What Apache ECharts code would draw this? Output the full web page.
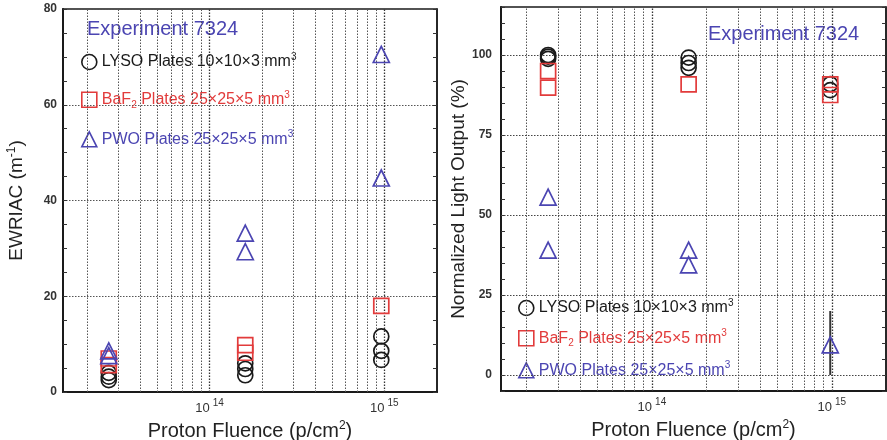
<!DOCTYPE html>
<html><head><meta charset="utf-8">
<script src="https://cdn.jsdelivr.net/npm/echarts@6/dist/echarts.min.js"></script>
<style>html,body{margin:0;padding:0;background:#fff}#c{width:887px;height:440px}</style>
</head><body><div id="c"></div>
<script>
// ---------- data ----------
const seriesNames = ['LYSO', 'BaF2', 'PWO'];
// Left panel: EWRIAC (m^-1) vs proton fluence
const lysoEwriacX = [2.65e13, 2.65e13, 2.65e13, 1.6e14, 1.6e14, 1.6e14, 9.6e14, 9.6e14, 9.6e14];
const lysoEwriacY = [4.0, 3.2, 2.5, 6.0, 4.8, 3.5, 11.6, 8.6, 6.7];
const bafEwriacX = [2.65e13, 2.65e13, 1.6e14, 1.6e14, 9.6e14];
const bafEwriacY = [7.0, 5.6, 9.8, 8.2, 18.0];
const pwoEwriacX = [2.65e13, 2.65e13, 1.6e14, 1.6e14, 9.6e14, 9.6e14];
const pwoEwriacY = [8.6, 7.6, 33.2, 29.3, 70.5, 44.7];
// Right panel: normalized light output (%) vs proton fluence
const lysoLightX = [2.65e13, 2.65e13, 2.65e13, 1.6e14, 1.6e14, 1.6e14, 9.8e14, 9.8e14];
const lysoLightY = [100, 99.5, 98.8, 99.2, 97.5, 96.0, 90.9, 89.0];
const bafLightX = [2.65e13, 2.65e13, 1.6e14, 9.8e14, 9.8e14];
const bafLightY = [95.0, 89.8, 90.8, 90.8, 87.5];
const pwoLightX = [2.65e13, 2.65e13, 1.6e14, 1.6e14, 9.8e14];
const pwoLightY = [55.6, 39.0, 39.0, 34.4, 9.4];
const pwoLightErrX = [9.8e14, 9.8e14];
const pwoLightErrY = [0, 20];
// axis/grid values
const fluenceRange = [1.45e13, 2e15];
const gridMinorX = [2e13, 3e13, 4e13, 5e13, 6e13, 7e13, 8e13, 9e13, 2e14, 3e14, 4e14, 5e14, 6e14, 7e14, 8e14, 9e14];
const gridMajorX = [1e14, 1e15];
const ewriacRange = [0, 80];
const ewriacTickStep = 20;
const lightRange = [-5, 115];
const lightGridY = [0, 25, 50, 75, 100];
const legendLabels = {
  LYSO: '{t|LYSO Plates 10×10×3 mm}{sup|3}',
  BaF2: '{t|BaF}{sub|2}{t| Plates 25×25×5 mm}{sup|3}',
  PWO: '{t|PWO Plates 25×25×5 mm}{sup|3}'
};

// ---------- styles ----------
const FONT = 'Liberation Sans, Arial, sans-serif';
const BLACK = '#1a1a1a', RED = '#e23b3b', BLUE = '#4b45b2';
const colors = { LYSO: BLACK, BaF2: RED, PWO: BLUE };
const symbols = { LYSO: 'circle', BaF2: 'rect', PWO: 'triangle' };
const sizes = { LYSO: 15, BaF2: 15, PWO: 16 };

const zip = (xs, ys) => xs.map((x, i) => [x, ys[i]]);
const dotted = { type: [1.5, 1.5], color: '#555', width: 1 };

function xAxisFor(gi) {
  return {
    type: 'log', logBase: 10, gridIndex: gi,
    min: fluenceRange[0], max: fluenceRange[1],
    axisLine: { show: true, onZero: false, lineStyle: { color: BLACK, width: 2 } },
    axisTick: { show: false },
    splitLine: { show: false },
    axisLabel: {
      showMinLabel: false, showMaxLabel: false, margin: 6,
      formatter: v => '{b|10}{s|' + Math.round(Math.log10(v)) + '}',
      rich: {
        b: { fontSize: 13, lineHeight: 20, fontFamily: FONT, color: '#333', padding: [0, 3, 0, 0] },
        s: { fontSize: 10, lineHeight: 6, verticalAlign: 'top', fontFamily: FONT, color: '#333' }
      }
    },
    name: '{b|Proton Fluence (p/cm}{s|2}{b|)}',
    nameLocation: 'middle', nameGap: 17,
    nameTextStyle: {
      rich: {
        b: { fontSize: 20, lineHeight: 24, fontFamily: FONT, color: '#222' },
        s: { fontSize: 12, lineHeight: 12, verticalAlign: 'top', fontFamily: FONT, color: '#222' }
      }
    }
  };
}

const tickStyleInside = { show: true, inside: true, length: 4, lineStyle: { color: '#333', width: 1 } };

const yAxes = [
  {
    type: 'value', gridIndex: 0, min: ewriacRange[0], max: ewriacRange[1], interval: ewriacTickStep,
    axisLine: { show: true, lineStyle: { color: BLACK, width: 2 } },
    axisTick: tickStyleInside,
    minorTick: { show: true, splitNumber: 4, length: 4, lineStyle: { color: '#333' } },
    splitLine: { show: true, lineStyle: dotted },
    axisLabel: { fontSize: 12, fontFamily: FONT, color: '#333', fontWeight: 'bold', margin: 6 },
    name: '{b|EWRIAC (m}{s|-1}{b|)}', nameLocation: 'middle', nameGap: 35,
    nameTextStyle: {
      rich: {
        b: { fontSize: 19, lineHeight: 22, fontFamily: FONT, color: '#222' },
        s: { fontSize: 12, lineHeight: 10, verticalAlign: 'top', fontFamily: FONT, color: '#222' }
      }
    }
  },
  {
    type: 'value', gridIndex: 0, position: 'right', min: ewriacRange[0], max: ewriacRange[1], interval: ewriacTickStep,
    axisLine: { show: true, lineStyle: { color: BLACK, width: 1.5 } },
    axisTick: tickStyleInside,
    minorTick: { show: true, splitNumber: 4, length: 4, lineStyle: { color: '#333' } },
    splitLine: { show: false }, axisLabel: { show: false }
  },
  {
    type: 'value', gridIndex: 1, min: lightRange[0], max: lightRange[1], interval: 5,
    axisLine: { show: true, lineStyle: { color: BLACK, width: 2 } },
    axisTick: tickStyleInside,
    splitLine: { show: false },
    axisLabel: { fontSize: 12, fontFamily: FONT, color: '#333', fontWeight: 'bold', margin: 9,
      formatter: v => (lightGridY.indexOf(v) >= 0 ? String(v) : '') },
    name: 'Normalized Light Output (%)', nameLocation: 'middle', nameGap: 31,
    nameTextStyle: { fontSize: 19, fontFamily: FONT, color: '#222' }
  },
  {
    type: 'value', gridIndex: 1, position: 'right', min: lightRange[0], max: lightRange[1], interval: 5,
    axisLine: { show: true, lineStyle: { color: BLACK, width: 1.5 } },
    axisTick: tickStyleInside,
    splitLine: { show: false }, axisLabel: { show: false }
  }
];

function gridLines(includeY) {
  const data = gridMinorX.map(v => ({ xAxis: v }))
    .concat(gridMajorX.map(v => ({ xAxis: v, lineStyle: { type: [1.5, 1.5], color: '#333', width: 1.3 } })));
  if (includeY) lightGridY.forEach(v => data.push({ yAxis: v, lineStyle: { type: [1.5, 1.5], color: '#444', width: 1.2 } }));
  return {
    silent: true, symbol: ['none', 'none'], label: { show: false },
    lineStyle: dotted, animation: false, data
  };
}

function scatter(name, xs, ys, gi, withGrid) {
  const s = {
    name, type: 'scatter', xAxisIndex: gi, yAxisIndex: gi * 2,
    symbol: symbols[name], symbolSize: sizes[name],
    itemStyle: { color: 'rgba(0,0,0,0)', borderColor: colors[name], borderWidth: 1.7, opacity: 1 },
    emphasis: { disabled: true },
    data: zip(xs, ys), z: 5
  };
  if (withGrid !== undefined) s.markLine = gridLines(withGrid);
  return s;
}

function legendFor(left, top, gap) {
  return {
    orient: 'vertical', left, top, itemGap: gap, itemWidth: 15, itemHeight: 15, padding: 0,
    selectedMode: false,
    data: seriesNames.map(n => ({
      name: n, icon: symbols[n],
      itemStyle: { color: 'rgba(0,0,0,0)', borderColor: colors[n], borderWidth: 1.6 },
      textStyle: { color: colors[n] }
    })),
    formatter: n => legendLabels[n],
    textStyle: {
      fontFamily: FONT,
      rich: {
        t: { fontSize: 16, lineHeight: 20, fontFamily: FONT },
        sup: { fontSize: 10, lineHeight: 8, verticalAlign: 'top', fontFamily: FONT },
        sub: { fontSize: 10, lineHeight: 8, verticalAlign: 'bottom', fontFamily: FONT }
      }
    }
  };
}

const gridCommon = { show: true, borderColor: BLACK, borderWidth: 1.5, backgroundColor: 'rgba(0,0,0,0)', containLabel: false, outerBoundsMode: 'none' };

const option = {
  animation: false,
  backgroundColor: '#fff',
  grid: [
    Object.assign({ left: 63, top: 9, width: 374, height: 383 }, gridCommon),
    Object.assign({ left: 501, top: 7, width: 385, height: 384 }, gridCommon)
  ],
  xAxis: [xAxisFor(0), xAxisFor(1)],
  yAxis: yAxes,
  legend: [legendFor(81, 52, 19.5), legendFor(518, 298, 12)],
  graphic: [
    { type: 'text', left: 87, top: 19, style: { text: 'Experiment 7324', fill: BLUE, font: '20px ' + FONT } },
    { type: 'text', left: 708, top: 24, style: { text: 'Experiment 7324', fill: BLUE, font: '20px ' + FONT } }
  ],
  series: [
    scatter('LYSO', lysoEwriacX, lysoEwriacY, 0, false),
    scatter('BaF2', bafEwriacX, bafEwriacY, 0),
    scatter('PWO', pwoEwriacX, pwoEwriacY, 0),
    {
      name: 'PWO error', type: 'line', xAxisIndex: 1, yAxisIndex: 2,
      data: zip(pwoLightErrX, pwoLightErrY), symbol: 'none',
      lineStyle: { color: '#333', width: 2 }, z: 4, silent: true
    },
    scatter('LYSO', lysoLightX, lysoLightY, 1, true),
    scatter('BaF2', bafLightX, bafLightY, 1),
    scatter('PWO', pwoLightX, pwoLightY, 1)
  ]
};

const chart = echarts.init(document.getElementById('c'), null, { renderer: 'canvas' });
chart.setOption(option);
</script>
</body></html>
